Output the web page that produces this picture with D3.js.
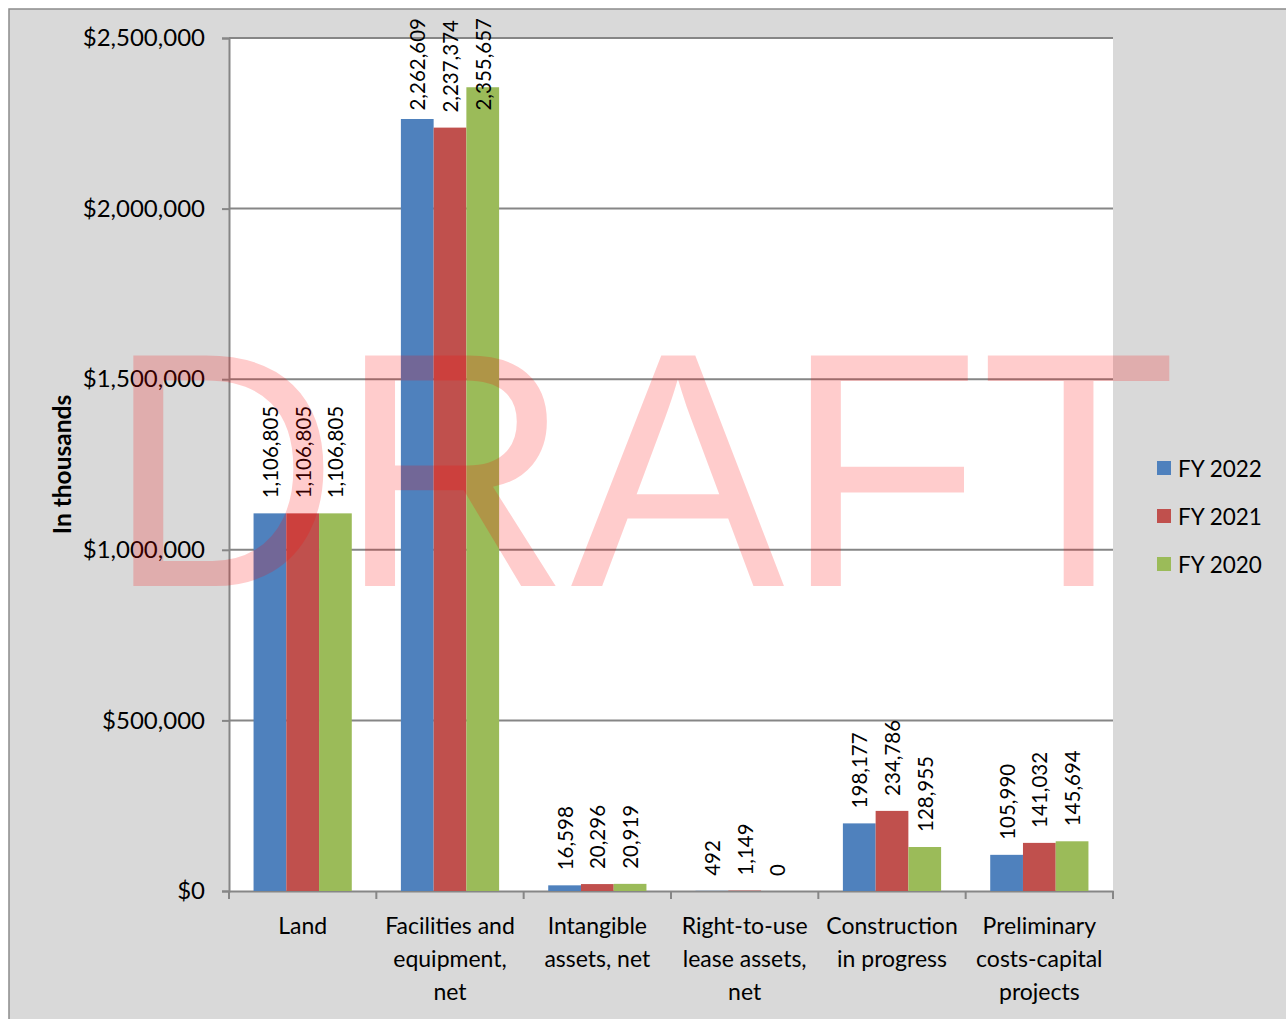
<!DOCTYPE html>
<html>
<head>
<meta charset="utf-8">
<script src="https://cdn.jsdelivr.net/npm/d3@7"></script>
<style>
  html, body { margin: 0; padding: 0; background: #fff; }
  svg { display: block; font-family: Lato, "Open Sans", sans-serif; }
</style>
</head>
<body>
<div id="chart"></div>
<script>
// data (in thousands)
var categories = ["Land", "Facilities and\nequipment,\nnet", "Intangible\nassets, net",
  "Right-to-use\nlease assets,\nnet", "Construction\nin progress", "Preliminary\ncosts-capital\nprojects"];
var seriesNames = ["FY 2022", "FY 2021", "FY 2020"];
var fy2022 = [1106805, 2262609, 16598, 492, 198177, 105990];
var fy2021 = [1106805, 2237374, 20296, 1149, 234786, 141032];
var fy2020 = [1106805, 2355657, 20919, 0, 128955, 145694];
var yTicks = [0, 500000, 1000000, 1500000, 2000000, 2500000];

var colors = ["#4f81bd", "#c0504d", "#9bbb59"];
var series = [fy2022, fy2021, fy2020];

var W = 1286, H = 1019;
var plot = { left: 229, right: 1113, top: 38, bottom: 891 };

var svg = d3.select("#chart").append("svg")
  .attr("width", W).attr("height", H);

// background + outer frame
svg.append("rect").attr("x", 0).attr("y", 0).attr("width", W).attr("height", H).style("fill", "#fff");
svg.append("rect").attr("x", 9).attr("y", 9).attr("width", W + 20).attr("height", H + 20)
  .style("fill", "#d9d9d9").style("stroke", "#8c8c8c").style("stroke-width", "1.5px");

// plot area
svg.append("rect").attr("x", plot.left).attr("y", plot.top)
  .attr("width", plot.right - plot.left).attr("height", plot.bottom - plot.top)
  .style("fill", "#fff");

var x0 = d3.scaleBand().domain(d3.range(categories.length)).range([plot.left, plot.right]);
var cw = x0.bandwidth();
var x1 = d3.scaleBand().domain(d3.range(series.length)).range([cw / 6, cw * 5 / 6]);
var y = d3.scaleLinear().domain([0, 2500000]).range([plot.bottom, plot.top]);

// gridlines
svg.append("g").selectAll("line").data(yTicks.slice(1)).enter().append("line")
  .attr("x1", plot.left).attr("x2", plot.right)
  .attr("y1", function(d) { return y(d); }).attr("y2", function(d) { return y(d); })
  .style("stroke", "#868686").style("stroke-width", "2px");

// y axis
var yAxis = d3.axisLeft(y).tickValues(yTicks).tickSizeOuter(0).tickSize(7).tickPadding(17)
  .tickFormat(function(d) { return "$" + d3.format(",")(d); });
var gy = svg.append("g").attr("transform", "translate(" + plot.left + ",0)").call(yAxis);
gy.selectAll("path, line").style("stroke", "#868686").style("stroke-width", "2px");
gy.selectAll("text").style("font-size", "24px").style("fill", "#000")
  .style("font-family", "Lato, sans-serif");

// x axis
var xAxis = d3.axisBottom(x0).tickSize(0).tickFormat("");
var gx = svg.append("g").attr("transform", "translate(0," + plot.bottom + ")").call(xAxis);
gx.select("path").style("stroke", "#868686").style("stroke-width", "2px");
gx.selectAll("line.bound").data(d3.range(categories.length + 1)).enter().append("line")
  .attr("class", "bound")
  .attr("x1", function(d) { return plot.left + d * cw; })
  .attr("x2", function(d) { return plot.left + d * cw; })
  .attr("y1", 0).attr("y2", 8)
  .style("stroke", "#868686").style("stroke-width", "2px");

// category labels
categories.forEach(function(c, i) {
  var t = svg.append("text")
    .attr("x", x0(i) + cw / 2).attr("y", 934)
    .attr("text-anchor", "middle")
    .style("font-size", "23px").style("fill", "#000");
  c.split("\n").forEach(function(line, k) {
    t.append("tspan").attr("x", x0(i) + cw / 2).attr("dy", k === 0 ? 0 : 33).text(line);
  });
});

// bars
series.forEach(function(vals, s) {
  svg.append("g").selectAll("rect").data(vals).enter().append("rect")
    .attr("x", function(d, i) { return x0(i) + x1(s); })
    .attr("y", function(d) { return y(d); })
    .attr("width", x1.bandwidth())
    .attr("height", function(d) { return plot.bottom - y(d); })
    .style("fill", colors[s]);
});

// data labels (rotated), kept inside the chart top
series.forEach(function(vals, s) {
  svg.append("g").selectAll("text").data(vals).enter().append("text")
    .text(function(d) { return d3.format(",")(d); })
    .style("font-size", "20.5px").style("fill", "#000")
    .attr("dominant-baseline", "central")
    .attr("transform", function(d, i) {
      var cx = x0(i) + x1(s) + x1.bandwidth() / 2;
      var len = this.getComputedTextLength();
      var start = Math.max(y(d) - 15, 18 + len);
      return "translate(" + cx + "," + start + ") rotate(-90)";
    });
});

// y title
svg.append("text")
  .attr("transform", "translate(61," + ((plot.top + plot.bottom) / 2 + 0) + ") rotate(-90)")
  .attr("text-anchor", "middle").attr("dominant-baseline", "central")
  .style("font-size", "24.5px").style("font-weight", "bold").style("fill", "#000")
  .text("In thousands");

// legend
var legend = svg.append("g").selectAll("g").data(seriesNames).enter().append("g")
  .attr("transform", function(d, i) { return "translate(1157," + (468 + i * 48) + ")"; });
legend.append("rect").attr("x", 0).attr("y", -7).attr("width", 14).attr("height", 14)
  .style("fill", function(d, i) { return colors[i]; });
legend.append("text").attr("x", 21).attr("y", 0).attr("dominant-baseline", "central")
  .style("font-size", "22.5px").style("fill", "#000")
  .text(function(d) { return d; });

// watermark
svg.append("text")
  .attr("transform", "translate(107,586) scale(0.958,1)")
  .style("font-family", "'Liberation Sans', Arial, sans-serif")
  .style("font-size", "335px")
  .style("fill", "#ff0000").style("fill-opacity", 0.2)
  .text("DRAFT");
</script>
</body>
</html>
